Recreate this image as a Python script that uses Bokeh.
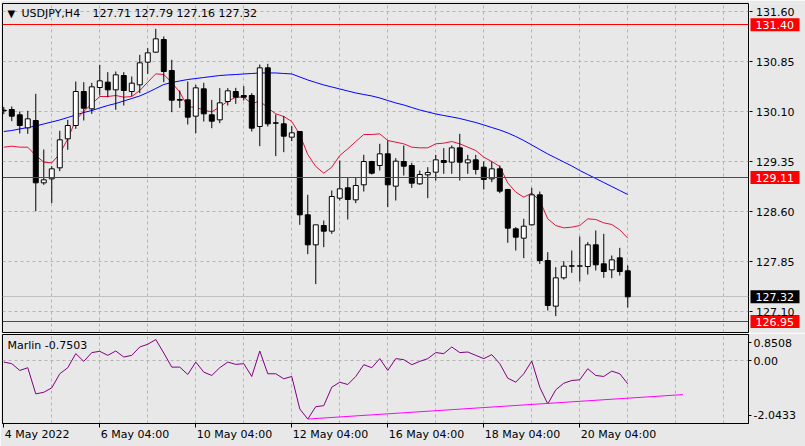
from bokeh.plotting import figure
from bokeh.layouts import column, row
from bokeh.models import (ColumnDataSource, Range1d, FixedTicker, PrintfTickFormatter, Label,
                          LinearAxis)
from bokeh.core.properties import value
from bokeh.embed import file_html
from bokeh.resources import INLINE

# ---------------- data ----------------
symbol = "USDJPY,H4"
opens = [130.12, 130.13, 130.05, 129.855, 129.965, 129.03, 129.09, 129.255, 129.69, 129.89,
         130.40, 130.14, 130.46, 130.54, 130.425, 130.64, 130.40, 130.50, 130.84, 130.99,
         131.18, 130.715, 130.28, 130.275, 130.03, 130.44, 130.05, 129.975, 130.25, 130.40,
         130.34, 130.34, 129.875, 130.755, 129.93, 129.915, 129.715, 129.80, 128.55, 128.10,
         128.39, 128.305, 128.80, 128.955, 128.775, 129.00, 129.35, 129.29, 129.465, 128.98,
         129.35, 129.29, 129.015, 129.15, 129.19, 129.365, 129.34, 129.555, 129.33, 129.375,
         129.265, 129.09, 129.24, 128.93, 128.34, 128.20, 128.40, 128.85, 127.865, 127.18,
         127.605, 127.785, 127.78, 127.775, 128.10, 127.815, 127.725, 127.905, 127.71]
highs = [130.17, 130.175, 130.10, 130.11, 130.365, 129.53, 129.28, 129.81, 129.975, 130.55,
         130.54, 130.53, 130.80, 130.69, 130.70, 130.69, 130.625, 130.95, 131.05, 131.34,
         131.225, 130.875, 130.415, 130.55, 130.50, 130.53, 130.275, 130.45, 130.45, 130.455,
         130.48, 130.375, 130.805, 130.815, 130.055, 130.03, 129.88, 129.80, 128.85, 128.40,
         128.465, 128.915, 129.365, 129.105, 129.105, 129.45, 129.36, 129.615, 129.665, 129.40,
         129.59, 129.33, 129.215, 129.265, 129.45, 129.55, 129.59, 129.765, 129.45, 129.45,
         129.35, 129.35, 129.29, 128.94, 128.365, 128.49, 128.955, 128.90, 127.99, 127.765,
         127.855, 128.015, 128.225, 128.14, 128.315, 128.265, 127.94, 128.055, 127.79]
lows = [130.06, 129.955, 129.77, 129.765, 128.605, 129.00, 128.725, 129.205, 129.525, 129.84,
        129.965, 130.065, 130.34, 130.315, 130.125, 130.19, 130.33, 130.375, 130.665, 130.98,
        130.54, 130.09, 130.155, 129.905, 129.775, 129.95, 129.85, 129.925, 130.19, 130.215,
        130.265, 129.80, 129.58, 129.875, 129.43, 129.49, 129.655, 128.40, 127.96, 127.51,
        128.065, 128.265, 128.765, 128.48, 128.725, 128.90, 129.155, 129.215, 128.665, 128.765,
        129.14, 128.955, 129.00, 128.80, 129.065, 129.165, 129.165, 129.065, 129.165, 129.155,
        128.93, 129.04, 128.875, 128.13, 128.015, 127.90, 128.39, 127.815, 127.115, 127.03,
        127.58, 127.68, 127.55, 127.655, 127.715, 127.605, 127.60, 127.64, 127.16]
closes = [130.11, 130.03, 129.89, 129.99, 129.03, 129.075, 129.24, 129.675, 129.89, 130.40,
          130.15, 130.47, 130.56, 130.425, 130.65, 130.415, 130.525, 130.83, 130.98, 131.19,
          130.70, 130.27, 130.27, 130.015, 130.455, 130.065, 129.955, 130.23, 130.41, 130.315,
          130.315, 129.85, 130.755, 129.915, 129.925, 129.73, 129.78, 128.55, 128.10, 128.40,
          128.305, 128.825, 128.94, 128.78, 128.99, 129.35, 129.175, 129.465, 129.00, 129.355,
          129.28, 129.025, 129.155, 129.185, 129.375, 129.335, 129.555, 129.34, 129.375, 129.23,
          129.08, 129.24, 128.905, 128.35, 128.215, 128.38, 128.85, 127.865, 127.19, 127.605,
          127.78, 127.78, 127.785, 128.10, 127.80, 127.70, 127.875, 127.70, 127.32]
ma_fast = [129.565, 129.58, 129.565, 129.565, 129.44, 129.34, 129.33, 129.465, 129.69, 129.975,
           130.10, 130.215, 130.325, 130.325, 130.34, 130.315, 130.325, 130.415, 130.54, 130.665,
           130.655, 130.535, 130.39, 130.17, 130.165, 130.12, 130.095, 130.17, 130.253, 130.315,
           130.315, 130.215, 130.26, 130.153, 130.065, 130.025, 129.95, 129.755, 129.455, 129.275,
           129.175, 129.265, 129.44, 129.54, 129.65, 129.755, 129.755, 129.765, 129.665, 129.64,
           129.615, 129.565, 129.555, 129.555, 129.615, 129.625, 129.65, 129.615, 129.565, 129.515,
           129.415, 129.35, 129.275, 129.028, 128.89, 128.815, 128.875, 128.765, 128.49, 128.39,
           128.355, 128.365, 128.39, 128.49, 128.48, 128.43, 128.405, 128.325, 128.20]
ma_slow = [129.80, 129.815, 129.838, 129.86, 129.883, 129.913, 129.943, 129.973, 130.01, 130.048,
           130.085, 130.115, 130.153, 130.19, 130.22, 130.258, 130.295, 130.333, 130.385, 130.445,
           130.505, 130.535, 130.558, 130.58, 130.595, 130.61, 130.625, 130.64, 130.648, 130.655,
           130.663, 130.67, 130.678, 130.678, 130.678, 130.67, 130.663, 130.618, 130.573, 130.535,
           130.498, 130.468, 130.438, 130.408, 130.378, 130.355, 130.333, 130.303, 130.265, 130.228,
           130.198, 130.16, 130.123, 130.093, 130.063, 130.04, 130.018, 129.995, 129.965, 129.935,
           129.898, 129.86, 129.823, 129.778, 129.725, 129.665, 129.598, 129.53, 129.463, 129.403,
           129.343, 129.283, 129.215, 129.155, 129.095, 129.035, 128.975, 128.915, 128.855]
marlin = [-0.046, -0.098, -0.318, -0.229, -1.080, -1.028, -0.884, -0.426, -0.229, 0.229,
          -0.023, 0.262, 0.304, 0.173, 0.314, 0.118, 0.173, 0.445, 0.533, 0.687,
          0.249, -0.210, -0.210, -0.449, -0.046, -0.373, -0.481, -0.229, -0.046, -0.121,
          -0.098, -0.514, 0.314, -0.426, -0.426, -0.589, -0.514, -1.571, -1.898, -1.496,
          -1.463, -0.864, -0.700, -0.776, -0.514, -0.131, -0.229, 0.066, -0.318, 0.066,
          0.033, -0.131, -0.023, 0.066, 0.262, 0.229, 0.445, 0.262, 0.281, 0.173,
          0.066, 0.196, -0.098, -0.570, -0.700, -0.426, -0.013, -0.864, -1.407, -0.949,
          -0.733, -0.645, -0.622, -0.262, -0.481, -0.514, -0.340, -0.426, -0.7503]
trend_idx = [38, 84.9]
trend_val = [-1.898, -1.103]
levels = [131.40, 129.11, 126.95]
price_ticks = [127.10, 127.85, 128.60, 129.35, 130.10, 130.85, 131.60]
price_range = [126.785, 131.72]
marlin_range = [-2.0433, 0.8508]
date_idx = [0, 12, 24, 36, 48, 60, 72]
date_labels = ["4 May 2022", "6 May 04:00", "10 May 04:00", "12 May 04:00",
               "16 May 04:00", "18 May 04:00", "20 May 04:00"]
grid_idx = [6, 12, 18, 24, 30, 36, 42, 48, 54, 60, 66, 72, 78, 84, 90]
view_idx = [-0.16, 93.09]

# ---------------- style ----------------
FONT = "DejaVu Sans"
FS = "11px"
BG = "#e8e8e8"
GRID = "#b4b4b4"
FRAME_W = 746
STRIP_W = 56
PX_PER_BAR = FRAME_W / (view_idx[1] - view_idx[0])
CHAR_W = {" ": 3.5, ":": 3.7, "M": 9.5, "a": 6.7, "y": 6.5}

def text_width(s):
    return sum(CHAR_W.get(ch, 7.0) for ch in s)

n = len(closes)
idx = list(range(n))
x_range = Range1d(view_idx[0], view_idx[1])
y_price = Range1d(price_range[0], price_range[1])

def style_fig(f):
    f.background_fill_color = BG
    f.border_fill_color = BG
    for g in f.grid:
        g.grid_line_color = GRID
        g.grid_line_dash = "3 3"
        g.grid_line_width = 1

def style_axis(ax):
    ax.minor_tick_out = 0
    ax.minor_tick_in = 0
    ax.major_tick_line_color = "black"
    ax.major_label_text_font = FONT
    ax.major_label_text_font_size = FS
    ax.major_label_text_color = "black"

# ---------------- main price panel ----------------
p = figure(frame_width=FRAME_W, frame_height=329, x_range=x_range, y_range=y_price,
           output_backend="svg", toolbar_location=None,
           x_axis_location=None, y_axis_location=None,
           min_border_left=2, min_border_right=1, min_border_top=3, min_border_bottom=1,
           outline_line_color="black")
style_fig(p)
p.ygrid.ticker = FixedTicker(ticks=price_ticks)
p.xgrid.ticker = FixedTicker(ticks=grid_idx)

src = ColumnDataSource(dict(
    x=idx, o=opens, h=highs, l=lows, c=closes,
    top=[max(o, c) for o, c in zip(opens, closes)],
    bottom=[min(o, c) for o, c in zip(opens, closes)],
    fill=["white" if c >= o else "black" for o, c in zip(opens, closes)],
))
p.hspan(y=[closes[-1]], line_color="#c0c0c0", line_width=1)
p.line(idx, ma_slow, line_color="#0000ff", line_width=1)
p.line(idx, ma_fast, line_color="#e0143c", line_width=1)
p.segment(x0="x", y0="h", x1="x", y1="l", source=src, line_color="black", line_width=1)
p.vbar(x="x", width=0.62, top="top", bottom="bottom", fill_color="fill",
       line_color="black", line_width=1, source=src)
p.hspan(y=levels, line_color="#ff0000", line_width=1)

p.add_layout(Label(x=view_idx[0], y=price_range[1], x_offset=5, y_offset=-10, text="\u25bc",
                   text_font=FONT, text_font_size="10px", text_color="black",
                   text_align="left", text_baseline="middle"))
p.add_layout(Label(x=view_idx[0], y=price_range[1], x_offset=19, y_offset=-10, text=symbol,
                   text_font=FONT, text_font_size=FS, text_color="black",
                   text_align="left", text_baseline="middle"))
p.add_layout(Label(x=view_idx[0], y=price_range[1], x_offset=90, y_offset=-10,
                   text=f"{opens[-1]:.2f} {highs[-1]:.2f} {lows[-1]:.2f} {closes[-1]:.2f}",
                   text_font=FONT, text_font_size=FS, text_color="black",
                   text_align="left", text_baseline="middle"))

# ---------------- price scale strip (shares the price range) ----------------
ps = figure(frame_width=STRIP_W, frame_height=329, x_range=Range1d(0, STRIP_W), y_range=y_price,
            output_backend="svg", toolbar_location=None,
            x_axis_location=None, y_axis_location="left",
            min_border_left=0, min_border_right=0, min_border_top=3, min_border_bottom=1,
            outline_line_color=None)
style_fig(ps)
ps.xgrid.visible = False
ps.ygrid.visible = False
style_axis(ps.yaxis[0])
ps.yaxis.ticker = FixedTicker(ticks=price_ticks)
ps.yaxis.formatter = PrintfTickFormatter(format="%.2f")
ps.yaxis.axis_line_color = None
ps.yaxis.major_tick_out = 0
ps.yaxis.major_tick_in = 3
ps.yaxis.major_label_standoff = -45

tag_y = levels + [closes[-1]]
tag_src = ColumnDataSource(dict(
    y=tag_y,
    label=[f"{v:.2f}" for v in tag_y],
    fill=["#ff0000"] * len(levels) + ["black"],
))
ps.rect(x=25.5, y="y", width=49, height=13, height_units="screen", fill_color="fill",
        line_color=None, source=tag_src)
ps.text(x=6, y="y", text="label", text_color="white", text_font=value(FONT),
        text_font_size=FS, text_align="left", text_baseline="middle", source=tag_src)

# ---------------- oscillator panel ----------------
q = figure(frame_width=FRAME_W, frame_height=89, x_range=x_range,
           y_range=Range1d(marlin_range[0], marlin_range[1]),
           output_backend="svg", toolbar_location=None,
           y_axis_location="right",
           min_border_left=2, min_border_right=57, min_border_top=1, min_border_bottom=23,
           outline_line_color="black")
style_fig(q)
edge = 0.27
m_ticks = [marlin_range[1] - edge, 0.0, marlin_range[0] + edge]
style_axis(q.yaxis[0])
q.yaxis.axis_line_color = "black"
q.yaxis.major_tick_out = 3
q.yaxis.major_tick_in = 0
q.yaxis.ticker = FixedTicker(ticks=m_ticks)
q.yaxis.major_label_overrides = {m_ticks[0]: f"{marlin_range[1]:.4f}", 0.0: "0.00",
                                 m_ticks[2]: f"{marlin_range[0]:.4f}"}
q.yaxis.major_label_standoff = 2
q.ygrid.ticker = FixedTicker(ticks=[0.0])
q.xgrid.ticker = FixedTicker(ticks=grid_idx)

style_axis(q.xaxis[0])
q.xaxis.ticker = FixedTicker(ticks=date_idx)
q.xaxis.major_label_overrides = {i: "" for i in date_idx}
q.xaxis.major_label_text_font_size = "0px"
q.xaxis.major_label_standoff = 0
q.xaxis.major_tick_out = 4
q.xaxis.major_tick_in = 0
q.xaxis.axis_line_color = "black"

label_pos = [i + (1 + text_width(s) / 2) / PX_PER_BAR for i, s in zip(date_idx, date_labels)]
lab_axis = LinearAxis(ticker=FixedTicker(ticks=label_pos),
                      major_label_overrides={v: s for v, s in zip(label_pos, date_labels)},
                      major_tick_out=0, major_tick_in=0, minor_tick_out=0, minor_tick_in=0,
                      axis_line_color=None, major_label_standoff=0,
                      major_label_text_font=FONT, major_label_text_font_size=FS,
                      major_label_text_color="black")
q.add_layout(lab_axis, "below")

q.line(idx, marlin, line_color="#800080", line_width=1)
q.line(trend_idx, trend_val, line_color="#ff00ff", line_width=1)
q.add_layout(Label(x=view_idx[0], y=marlin_range[1], x_offset=5, y_offset=-11,
                   text=f"Marlin {marlin[-1]:.4f}",
                   text_font=FONT, text_font_size=FS, text_color="black",
                   text_align="left", text_baseline="middle"))

layout = column(row(p, ps, spacing=0), q, spacing=0)
open("out.html", "w").write(file_html(layout, INLINE))
